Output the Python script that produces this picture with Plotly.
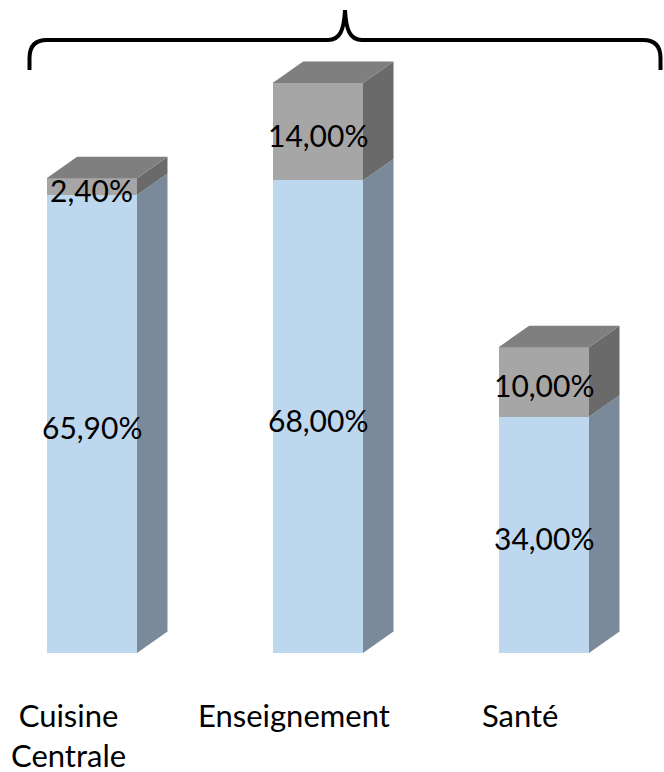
import plotly.graph_objects as go

categories = ["Cuisine<br>Centrale", "Enseignement", "Santé"]
serie_bleue = [65.9, 68.0, 34.0]
serie_grise = [2.4, 14.0, 10.0]
labels_bleue = ["65,90%", "68,00%", "34,00%"]
labels_grise = ["2,40%", "14,00%", "10,00%"]

W, H = 664, 772
PLOT_BOTTOM = 653           # pixel row of value 0
PX_PER_UNIT_Y = 6.95        # pixels per percent
PX_PER_CAT = 226.0          # pixels between category centres
X0_PX = 91.8                # pixel column of first category centre
BAR_W = 0.4
DX = 30.5 / PX_PER_CAT
DY = 21.5 / PX_PER_UNIT_Y

FONT = "Lato"
C_BLUE, C_BLUE_SIDE = "#BDD7EE", "#7A8A9A"
C_GREY, C_GREY_SIDE, C_TOP = "#A6A6A6", "#6A6A6A", "#7F7F7F"

xs = list(range(len(categories)))
x_lo = -X0_PX / PX_PER_CAT
x_hi = x_lo + W / PX_PER_CAT
y_hi = PLOT_BOTTOM / PX_PER_UNIT_Y

fig = go.Figure()
fig.add_trace(go.Bar(x=xs, y=serie_bleue, width=BAR_W, marker=dict(color=C_BLUE, line=dict(width=0)),
                     hoverinfo="skip", showlegend=False))
fig.add_trace(go.Bar(x=xs, y=serie_grise, width=BAR_W, marker=dict(color=C_GREY, line=dict(width=0)),
                     hoverinfo="skip", showlegend=False))


def poly(xv, yv, color):
    fig.add_trace(go.Scatter(x=xv + [xv[0]], y=yv + [yv[0]], mode="lines", fill="toself",
                             fillcolor=color, line=dict(width=0, color=color),
                             hoverinfo="skip", showlegend=False))


for i, (b, g) in enumerate(zip(serie_bleue, serie_grise)):
    r = i + BAR_W / 2
    l = i - BAR_W / 2
    # side faces
    poly([r, r + DX, r + DX, r], [0, DY, b + DY, b], C_BLUE_SIDE)
    poly([r, r + DX, r + DX, r], [b, b + DY, b + g + DY, b + g], C_GREY_SIDE)
    # top face
    t = b + g
    poly([l, r, r + DX, l + DX], [t, t, t + DY, t + DY], C_TOP)

annotations = []
for i, (b, g) in enumerate(zip(serie_bleue, serie_grise)):
    annotations.append(dict(x=i, y=b / 2, xref="x", yref="y", text=labels_bleue[i], showarrow=False,
                            font=dict(family=FONT, size=30, color="black"), yshift=-3))
    annotations.append(dict(x=i, y=b + g / 2, xref="x", yref="y", text=labels_grise[i], showarrow=False,
                            font=dict(family=FONT, size=30, color="black"), yshift=-3))
for i, c in enumerate(categories):
    annotations.append(dict(x=i - 0.105, y=1 - 694 / PLOT_BOTTOM, xref="x", yref="paper", text=c,
                            showarrow=False, yanchor="top", align="center",
                            font=dict(family=FONT, size=31, color="black")))


def P(px, py):
    return f"{px / W:.5f},{1 - py / PLOT_BOTTOM:.5f}"


brace = ("M " + P(29.5, 70) + " L " + P(29.5, 58) + " Q " + P(29.5, 40) + " " + P(47, 40) +
         " L " + P(328, 40) + " C " + P(340, 40) + " " + P(344, 30) + " " + P(345, 10) +
         " C " + P(346, 30) + " " + P(350, 40) + " " + P(362, 40) +
         " L " + P(643, 40) + " Q " + P(660.5, 40) + " " + P(660.5, 58) + " L " + P(660.5, 70))

fig.update_layout(
    width=W, height=H, barmode="stack", bargap=0,
    margin=dict(l=0, r=0, t=0, b=H - PLOT_BOTTOM),
    paper_bgcolor="white", plot_bgcolor="white",
    xaxis=dict(range=[x_lo, x_hi], visible=False, fixedrange=True),
    yaxis=dict(range=[0, y_hi], visible=False, fixedrange=True),
    annotations=annotations,
    shapes=[dict(type="path", path=brace, xref="paper", yref="paper",
                 line=dict(color="black", width=4), layer="above")],
    showlegend=False,
)

fig.write_html("out.html", config={"displayModeBar": False},
               post_script="document.body.style.margin='0px';document.body.style.overflow='hidden';")
